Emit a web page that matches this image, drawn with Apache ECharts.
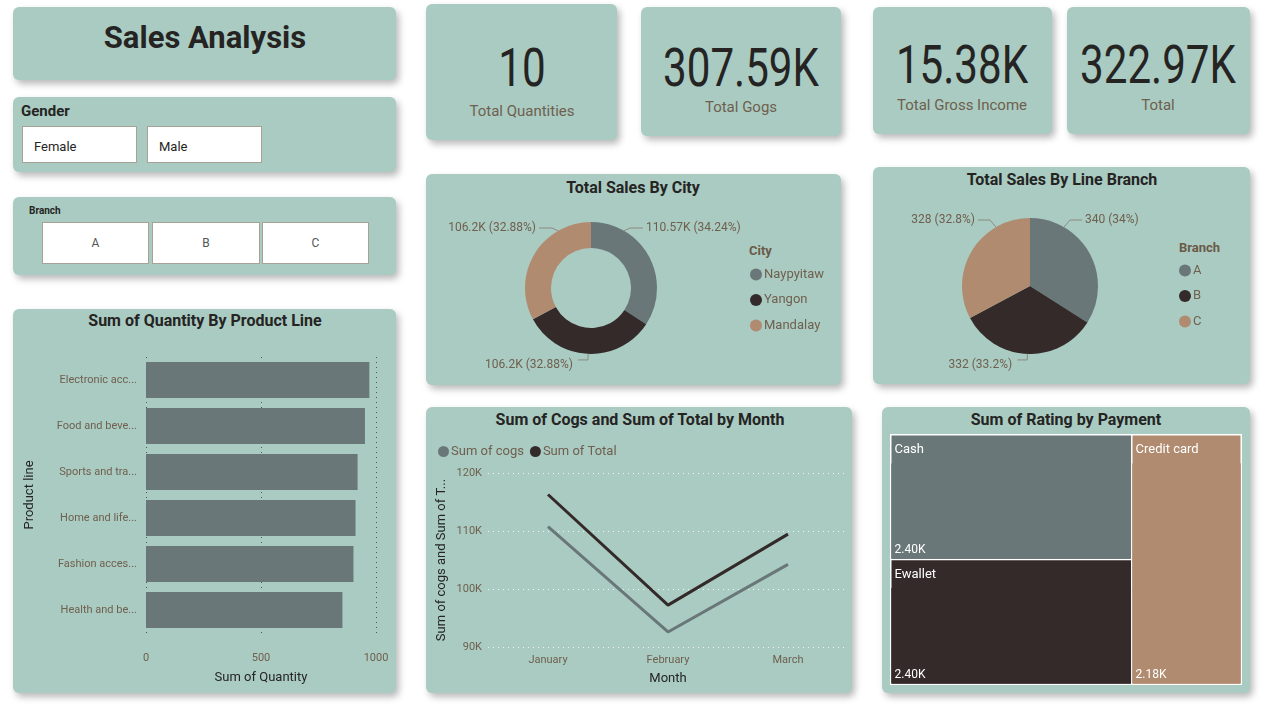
<!DOCTYPE html>
<html>
<head>
<meta charset="utf-8">
<title>Sales Analysis</title>
<script src="https://cdn.jsdelivr.net/npm/echarts@6/dist/echarts.min.js"></script>
<style>
  body { margin: 0; width: 1268px; height: 711px; background: #fff; position: relative; overflow: hidden;
         font-family: Roboto, 'DejaVu Sans', sans-serif; color: #252423; }
  .card { position: absolute; background: #a9cbc2; border-radius: 6px; box-shadow: 3px 4px 7px rgba(0,0,0,0.28); }
  .txt { position: absolute; white-space: nowrap; }
  .btn { position: absolute; background: #fff; border: 1px solid #a8a197; box-sizing: border-box; }
  .num { font-family: Roboto, sans-serif; transform: scaleX(0.78); }
  #chart { position: absolute; left: 0; top: 0; width: 1268px; height: 711px; }
</style>
</head>
<body>
<div id="cards"></div>
<div id="chart"></div>
<script>
// 数据
const kpiValues = ['10', '307.59K', '15.38K', '322.97K'];
const kpiNames = ['Total Quantities', 'Total Gogs', 'Total Gross Income', 'Total'];
const genders = ['Female', 'Male'];
const branchSlicer = ['A', 'B', 'C'];

const productLines = ['Electronic accessories', 'Food and beverages', 'Sports and travel', 'Home and lifestyle', 'Fashion accessories', 'Health and beauty'];
const quantities = [971, 952, 920, 911, 902, 854];

const cities = ['Naypyitaw', 'Yangon', 'Mandalay'];
const citySales = [110568.71, 106200.37, 106197.67];

const branches = ['A', 'B', 'C'];
const branchSales = [340, 332, 328];

const months = ['January', 'February', 'March'];
const cogsByMonth = [110754.16, 92589.88, 104243.34];
const totalByMonth = [116291.87, 97219.37, 109455.51];

const payments = ['Cash', 'Ewallet', 'Credit card'];
const ratingSums = [2401, 2398, 2180];

// 样式
const COLORS = ['#6a7779', '#342a2a', '#b08b70'];
const LABEL_COLOR = '#6f5f4e';
const DARK = '#252423';
const FONT = 'Roboto, "DejaVu Sans", sans-serif';

function fmtK(v) {
    return parseFloat((v / 1000).toFixed(2)) + 'K';
}

// 卡片布局 [left, top, width, height]
const cardBoxes = [
    [13, 7, 383, 73], [13, 97, 383, 75], [13, 197, 383, 78], [13, 309, 383, 384],
    [426, 4, 191, 136], [641, 7, 200, 129], [873, 7, 179, 127], [1067, 7, 183, 127],
    [426, 174, 415, 211], [873, 167, 377, 217], [426, 407, 426, 286], [882, 407, 368, 286]
];
const kpiPos = [[522, 68, 111], [741, 68, 107], [962, 65, 105], [1158, 65, 105]];

function addDiv(cls, css, text) {
    const d = document.createElement('div');
    d.className = cls;
    d.style.cssText = css;
    if (text !== undefined) d.textContent = text;
    document.getElementById('cards').appendChild(d);
    return d;
}

// 居中文字
function centerText(text, cx, cy, size, weight, color, extraCls) {
    addDiv('txt' + (extraCls ? ' ' + extraCls : ''),
        `left:${cx - 200}px;width:400px;text-align:center;top:${cy - size}px;line-height:${size * 2}px;font-size:${size}px;font-weight:${weight};color:${color};`, text);
}
function leftText(text, x, cy, size, weight, color) {
    addDiv('txt', `left:${x}px;top:${cy - size}px;line-height:${size * 2}px;font-size:${size}px;font-weight:${weight};color:${color};`, text);
}

function buildPage() {
    cardBoxes.forEach(b => addDiv('card', `left:${b[0]}px;top:${b[1]}px;width:${b[2]}px;height:${b[3]}px;`));

    centerText('Sales Analysis', 205, 38, 31, 700, DARK);
    leftText('Gender', 21, 111, 15, 700, DARK);
    leftText('Branch', 29, 211, 10, 700, DARK);

    const gBtn = [[22, 126, 115, 37], [147, 126, 115, 37]];
    genders.forEach((g, i) => {
        const b = gBtn[i];
        addDiv('btn', `left:${b[0]}px;top:${b[1]}px;width:${b[2]}px;height:${b[3]}px;`);
        leftText(g, b[0] + 12, b[1] + 21, 13, 400, DARK);
    });
    const bBtn = [[42, 222, 107, 42], [152, 222, 108, 42], [262, 222, 107, 42]];
    branchSlicer.forEach((s, i) => {
        const b = bBtn[i];
        addDiv('btn', `left:${b[0]}px;top:${b[1]}px;width:${b[2]}px;height:${b[3]}px;`);
        centerText(s, b[0] + b[2] / 2, b[1] + b[3] / 2, 12, 400, '#555');
    });

    kpiValues.forEach((v, i) => {
        const p = kpiPos[i];
        centerText(v, p[0], p[1], 54, 400, DARK, 'num');
        centerText(kpiNames[i], p[0], p[2], 15, 400, LABEL_COLOR);
    });

    centerText('Sum of Quantity By Product Line', 205, 321, 16, 700, DARK);
    centerText('Total Sales By City', 633, 188, 16, 700, DARK);
    centerText('Total Sales By Line Branch', 1062, 180, 16, 700, DARK);
    centerText('Sum of Cogs and Sum of Total by Month', 640, 420, 16, 700, DARK);
    centerText('Sum of Rating by Payment', 1066, 420, 16, 700, DARK);
    leftText('City', 749, 251, 13, 700, '#6b5a48');
    leftText('Branch', 1179, 248, 13, 700, '#6b5a48');
}

// 饼图标签：上半部分的标签放到饼顶两侧（像 Power BI 那样），引导线从 ±30° 处的外缘出发
function pieLabelLayout(cx, cy, R, gap, topDy) {
    return params => {
        const r = params.rect, l = params.labelRect;
        const isTop = l.y + l.height / 2 < r.y + r.height / 2;
        if (!isTop) return { dy: 5 };
        const s = (l.x + l.width / 2 > cx) ? 1 : -1;
        const y = r.y + topDy;
        const ex = cx + s * R * 0.5, ey = cy - R * 0.866;
        return {
            x: cx + s * gap, y: y, align: s > 0 ? 'left' : 'right', verticalAlign: 'middle',
            labelLinePoints: [[ex, ey], [ex + s * 6, y], [cx + s * (gap - 3), y]]
        };
    };
}

function initChart() {
    const chart = echarts.init(document.getElementById('chart'), null, { renderer: 'canvas' });
    const axisText = { color: LABEL_COLOR, fontSize: 11, fontFamily: FONT };
    const nameText = { color: DARK, fontSize: 13, fontFamily: FONT };
    const legendText = { color: LABEL_COLOR, fontSize: 13, padding: [0, 0, 0, -3] };

    chart.setOption({
        animation: false,
        backgroundColor: 'transparent',
        textStyle: { fontFamily: FONT },
        legend: [
            {
                data: cities, orient: 'vertical', left: 745, top: 263, itemGap: 12.5,
                icon: 'circle', itemWidth: 12, itemHeight: 12, textStyle: legendText
            },
            {
                data: branches, orient: 'vertical', left: 1174, top: 259, itemGap: 12.5,
                icon: 'circle', itemWidth: 12, itemHeight: 12, textStyle: legendText
            },
            {
                data: ['Sum of cogs', 'Sum of Total'], left: 433, top: 440, itemGap: 6,
                icon: 'circle', itemWidth: 11, itemHeight: 11, textStyle: legendText
            }
        ],
        grid: [
            { left: 146, top: 357, width: 230, height: 276 },
            { left: 488, top: 473, width: 360, height: 174 }
        ],
        xAxis: [
            {
                gridIndex: 0, type: 'value', min: 0, max: 1000, interval: 500,
                name: 'Sum of Quantity', nameLocation: 'middle', nameGap: 38, nameTextStyle: nameText,
                axisLabel: Object.assign({ margin: 20, formatter: v => String(v) }, axisText),
                axisLine: { show: false }, axisTick: { show: false },
                splitLine: { lineStyle: { color: '#555', type: [1, 4], width: 1 } }
            },
            {
                gridIndex: 1, type: 'category', data: months,
                name: 'Month', nameLocation: 'middle', nameGap: 25, nameTextStyle: nameText,
                axisLabel: Object.assign({ margin: 8 }, axisText),
                axisLine: { show: false }, axisTick: { show: false }
            }
        ],
        yAxis: [
            {
                gridIndex: 0, type: 'category', data: productLines, inverse: true,
                name: 'Product line', nameLocation: 'middle', nameGap: 110, nameTextStyle: nameText,
                axisLabel: Object.assign({ margin: 9, width: 82, overflow: 'truncate', ellipsis: '...' }, axisText),
                axisLine: { show: false }, axisTick: { show: false }
            },
            {
                gridIndex: 1, type: 'value', min: 90000, max: 120000, interval: 10000,
                name: 'Sum of cogs and Sum of Total', nameLocation: 'middle', nameGap: 40,
                nameTruncate: { maxWidth: 168, ellipsis: '...' }, nameTextStyle: nameText,
                axisLabel: Object.assign({ margin: 6, formatter: v => (v / 1000) + 'K' }, axisText),
                axisLine: { show: false }, axisTick: { show: false },
                splitLine: { lineStyle: { color: 'rgba(255,255,255,0.85)', type: [1, 4], width: 1 } }
            }
        ],
        series: [
            {
                type: 'bar', xAxisIndex: 0, yAxisIndex: 0, data: quantities,
                barCategoryGap: '22%', itemStyle: { color: COLORS[0] }, silent: true
            },
            {
                name: 'Sum of cogs', type: 'line', xAxisIndex: 1, yAxisIndex: 1, data: cogsByMonth,
                showSymbol: false, lineStyle: { color: COLORS[0], width: 3 }, itemStyle: { color: COLORS[0] }
            },
            {
                name: 'Sum of Total', type: 'line', xAxisIndex: 1, yAxisIndex: 1, data: totalByMonth,
                showSymbol: false, lineStyle: { color: COLORS[1], width: 3 }, itemStyle: { color: COLORS[1] }
            },
            {
                type: 'pie', center: [591, 288], radius: [40, 66], percentPrecision: 2,
                data: cities.map((c, i) => ({ name: c, value: citySales[i], itemStyle: { color: COLORS[i] } })),
                label: {
                    color: LABEL_COLOR, fontSize: 12,
                    formatter: p => `${fmtK(p.value)} (${p.percent}%)`
                },
                labelLine: { length: 6, length2: 10, lineStyle: { color: '#8d8a80', width: 1 } },
                labelLayout: pieLabelLayout(591, 288, 66, 55, 6)
            },
            {
                type: 'pie', center: [1030, 286], radius: [0, 68], percentPrecision: 2,
                data: branches.map((b, i) => ({ name: b, value: branchSales[i], itemStyle: { color: COLORS[i] } })),
                label: {
                    color: LABEL_COLOR, fontSize: 12,
                    formatter: p => `${p.value} (${p.percent}%)`
                },
                labelLine: { length: 6, length2: 10, lineStyle: { color: '#8d8a80', width: 1 } },
                labelLayout: pieLabelLayout(1030, 286, 68, 55, 2)
            },
            {
                type: 'treemap', left: 890, top: 434, width: 352, height: 251,
                roam: false, nodeClick: false, breadcrumb: { show: false }, silent: true,
                levels: [
                    { itemStyle: { color: '#fff', borderColor: '#fff', borderWidth: 1.5, gapWidth: 1.5 } },
                    {
                        itemStyle: { borderWidth: 0, gapWidth: 0 },
                        upperLabel: { show: true, height: 28, color: '#fff', fontSize: 13, padding: [0, 0, 0, 3] }
                    },
                    {
                        itemStyle: { borderWidth: 0, gapWidth: 0 },
                        label: {
                            show: true, position: 'insideBottomLeft', distance: 3, padding: 0,
                            color: '#fff', fontSize: 12,
                            formatter: p => (p.value / 1000).toFixed(2) + 'K'
                        }
                    }
                ],
                data: payments.map((p, i) => ({
                    name: p, value: ratingSums[i], itemStyle: { color: COLORS[i], borderColor: COLORS[i] },
                    children: [{ name: p, value: ratingSums[i], itemStyle: { color: COLORS[i], borderColor: COLORS[i] } }]
                }))
            }
        ]
    });
}

buildPage();
initChart();
</script>
</body>
</html>
